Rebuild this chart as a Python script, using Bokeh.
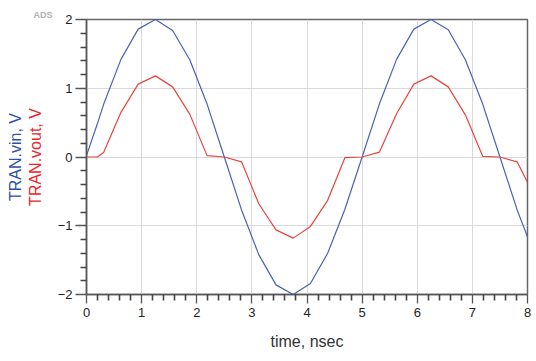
from bokeh.plotting import figure
from bokeh.models import LinearAxis, FixedTicker, Range1d, Title
from bokeh.embed import file_html
from bokeh.resources import INLINE

# time samples (ns)
time_ns = [0.0, 0.2, 0.3125, 0.625, 0.9375, 1.25, 1.5625, 1.875, 2.1875, 2.5,
           2.8125, 3.125, 3.4375, 3.75, 4.0625, 4.375, 4.6875, 5.0, 5.3125,
           5.625, 5.9375, 6.25, 6.5625, 6.875, 7.1875, 7.5, 7.8125, 8.0]
# TRAN.vin (V)
vin = [0.02, 0.49, 0.77, 1.42, 1.86, 2.0, 1.84, 1.41, 0.77, 0.0,
       -0.77, -1.42, -1.86, -2.0, -1.84, -1.40, -0.76, 0.0, 0.77,
       1.42, 1.86, 2.0, 1.85, 1.41, 0.77, 0.0, -0.77, -1.16]
# TRAN.vout (V)
vout = [0.0, 0.0, 0.07, 0.65, 1.06, 1.18, 1.02, 0.62, 0.02, 0.0,
        -0.07, -0.68, -1.06, -1.18, -1.01, -0.63, -0.01, 0.0, 0.07,
        0.63, 1.06, 1.18, 1.02, 0.61, 0.01, 0.0, -0.07, -0.37]

x_ticks = [0, 1, 2, 3, 4, 5, 6, 7, 8]
y_ticks = [-2, -1, 0, 1, 2]
x_minor = [round(i * 0.2, 1) for i in range(0, 41) if i % 5]
y_minor = [round(-2 + i * 0.2, 1) for i in range(0, 21) if i % 5]

p = figure(width=534, height=355, output_backend="svg", toolbar_location=None,
           x_range=Range1d(0, 8), y_range=Range1d(-2, 2),
           min_border_left=86, min_border_right=7, min_border_top=19,
           min_border_bottom=61)
p.background_fill_color = "white"
p.border_fill_color = "white"
p.outline_line_color = "#666666"
p.outline_line_width = 1.5

p.line(time_ns, vin, line_color="#4a62b4", line_width=1.2)
p.line(time_ns, vout, line_color="#e8453f", line_width=1.2)

AX = "#555555"
for ax, ticks, minor in ((p.xaxis[0], x_ticks, x_minor),
                         (p.yaxis[0], y_ticks, y_minor)):
    ax.ticker = FixedTicker(ticks=ticks, minor_ticks=minor)
    ax.axis_line_color = AX
    ax.axis_line_width = 1.5
    ax.major_tick_line_color = AX
    ax.major_tick_line_width = 1.3
    ax.minor_tick_line_color = "#444444"
    ax.minor_tick_line_width = 1.6
    ax.minor_tick_in = 0
    ax.minor_tick_out = 6
    ax.major_tick_in = 0
    ax.major_label_text_font = "Liberation Sans"
    ax.major_label_text_font_size = "13px"
    ax.major_label_text_color = "#222222"
    ax.axis_label_text_font = "Liberation Sans"
    ax.axis_label_text_font_size = "16px"
    ax.axis_label_text_font_style = "normal"

p.xaxis[0].major_tick_out = 9
p.xaxis[0].major_label_standoff = 4
p.xaxis[0].axis_label = "time, nsec"
p.xaxis[0].axis_label_text_color = "#333333"
p.xaxis[0].axis_label_standoff = 13

p.yaxis[0].major_tick_out = 11
p.yaxis[0].major_label_standoff = 3
p.yaxis[0].axis_label = "TRAN.vout, V"
p.yaxis[0].axis_label_text_color = "#e8262b"
p.yaxis[0].axis_label_standoff = 11

outer = LinearAxis(axis_label="TRAN.vin, V", ticker=FixedTicker(ticks=[]),
                   axis_line_color=None, major_tick_line_color=None,
                   minor_tick_line_color=None, major_label_text_font_size="0px",
                   axis_label_text_font="Liberation Sans",
                   axis_label_text_font_size="16px",
                   axis_label_text_font_style="normal",
                   axis_label_text_color="#2f4fa8", axis_label_standoff=0,
                   major_label_standoff=0, major_tick_out=0, major_tick_in=0,
                   minor_tick_out=0, minor_tick_in=0)
p.add_layout(outer, "left")

p.xgrid.ticker = FixedTicker(ticks=x_ticks)
p.ygrid.ticker = FixedTicker(ticks=y_ticks)
p.xgrid.grid_line_color = "#d9d9d9"
p.ygrid.grid_line_color = "#d9d9d9"

ads = Title(text="ADS", align="left", offset=-53, text_font="Liberation Sans",
            text_font_size="9px", text_font_style="bold",
            text_color="#b0b0b0", standoff=0)
p.add_layout(ads, "above")

open("out.html", "w").write(file_html(p, INLINE))
